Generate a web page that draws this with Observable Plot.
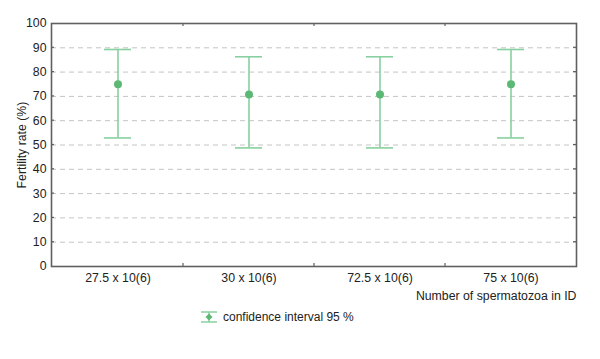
<!DOCTYPE html>
<html>
<head>
<meta charset="utf-8">
<script src="https://cdn.jsdelivr.net/npm/d3@7"></script>
<script src="https://cdn.jsdelivr.net/npm/@observablehq/plot@0.6"></script>
<style>
  html, body { margin: 0; padding: 0; background: #fff; }
  body { width: 600px; height: 359px; overflow: hidden; font-family: "Liberation Sans", Arial, sans-serif; }
  #legend { display: flex; align-items: center; margin-left: 200px; margin-top: 5px; font-size: 12px; color: #222; }
  #legend svg { margin-right: 5px; }
</style>
</head>
<body>
<div id="chart"></div>
<div id="legend"></div>
<script>
const categories = ["27.5 x 10(6)", "30 x 10(6)", "72.5 x 10(6)", "75 x 10(6)"];
const means = [75, 70.8, 70.8, 75];
const upper = [89.3, 86.3, 86.3, 89.3];
const lower = [52.9, 48.8, 48.8, 52.9];
const yTicks = [0, 10, 20, 30, 40, 50, 60, 70, 80, 90, 100];
const gridTicks = [10, 20, 30, 40, 50, 60, 70, 80, 90];
const xTitle = "Number of spermatozoa in ID";
const yTitle = "Fertility rate (%)";
const legendText = "confidence interval 95 %";

const lineColor = "#88d09f";
const dotColor = "#5cb874";
const frameColor = "#606060";

const data = categories.map((c, i) => ({cat: c, mean: means[i], hi: upper[i], lo: lower[i]}));

function frameTicks(index, scales, values, dimensions) {
  const {width, height, marginTop, marginBottom, marginLeft, marginRight} = dimensions;
  const g = d3.create("svg:g").attr("stroke", frameColor).attr("stroke-width", 1.2);
  const x0 = marginLeft, x1 = width - marginRight, y0 = marginTop, y1 = height - marginBottom;
  const len = 3;
  for (const t of gridTicks) {
    const y = scales.y(t);
    g.append("line").attr("x1", x0).attr("x2", x0 + len).attr("y1", y).attr("y2", y);
    g.append("line").attr("x1", x1).attr("x2", x1 - len).attr("y1", y).attr("y2", y);
  }
  for (const c of categories.slice(1)) {
    const x = scales.x(c);
    g.append("line").attr("x1", x).attr("x2", x).attr("y1", y0).attr("y2", y0 + len);
    g.append("line").attr("x1", x).attr("x2", x).attr("y1", y1).attr("y2", y1 - len);
  }
  return g.node();
}

const chart = Plot.plot({
  width: 600,
  height: 305,
  marginTop: 23,
  marginBottom: 39,
  marginLeft: 51,
  marginRight: 24,
  style: {fontFamily: "'Liberation Sans', Arial, sans-serif", fontSize: "12px", color: "#222", background: "#fff"},
  x: {type: "band", domain: categories, padding: 0},
  y: {domain: [0, 100]},
  marks: [
    Plot.ruleY(gridTicks, {stroke: "#c4c4c4", strokeDasharray: "5,4", strokeWidth: 1}),
    Plot.axisY(yTicks, {tickSize: 0, tickPadding: 5, fontSize: 12.3, label: yTitle, labelAnchor: "center", labelOffset: 34, labelArrow: "none"}),
    Plot.axisX({tickSize: 0, tickPadding: 7, fontSize: 12.3, label: null}),
    Plot.text([xTitle], {frameAnchor: "bottom-right", textAnchor: "end", dy: 33, fontSize: 12.3, fill: "#222"}),
    Plot.frame({stroke: frameColor, strokeWidth: 1.6}),
    frameTicks,
    Plot.ruleX(data, {x: "cat", y1: "lo", y2: "hi", stroke: lineColor, strokeWidth: 1.6}),
    Plot.tickY(data, {x: "cat", y: "hi", stroke: lineColor, strokeWidth: 1.6, insetLeft: 52, insetRight: 52}),
    Plot.tickY(data, {x: "cat", y: "lo", stroke: lineColor, strokeWidth: 1.6, insetLeft: 52, insetRight: 52}),
    Plot.dot(data, {x: "cat", y: "mean", r: 4, fill: dotColor, stroke: "none"})
  ]
});
document.getElementById("chart").appendChild(chart);

const legend = document.getElementById("legend");
const sym = d3.create("svg").attr("width", 18).attr("height", 12);
sym.append("line").attr("x1", 1).attr("x2", 17).attr("y1", 1).attr("y2", 1).attr("stroke", lineColor).attr("stroke-width", 1.5);
sym.append("line").attr("x1", 1).attr("x2", 17).attr("y1", 11).attr("y2", 11).attr("stroke", lineColor).attr("stroke-width", 1.5);
sym.append("line").attr("x1", 9).attr("x2", 9).attr("y1", 1).attr("y2", 11).attr("stroke", lineColor).attr("stroke-width", 1.5);
sym.append("path").attr("d", "M9,2.5L12.5,6L9,9.5L5.5,6Z").attr("fill", dotColor);
legend.appendChild(sym.node());
const span = document.createElement("span");
span.textContent = legendText;
legend.appendChild(span);
</script>
</body>
</html>
